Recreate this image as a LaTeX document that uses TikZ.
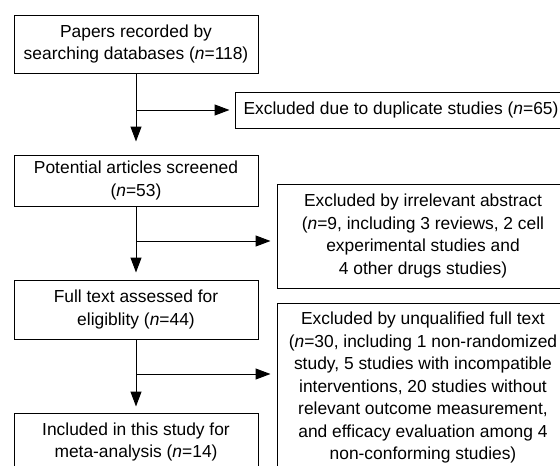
\documentclass[tikz,border=0pt]{standalone}
\usepackage{fontspec}
\setmainfont{Liberation Sans}
\usetikzlibrary{arrows.meta}
\newcommand{\nn}{\textit{n}}

\begin{document}
\begin{tikzpicture}[x=1pt, y=-1pt, line width=1pt,
		box/.style={draw, align=center, inner sep=0pt, font=\fontsize{17.4}{22.5}\selectfont},
		arr/.style={-{Triangle[length=15pt, width=11pt]}}]
		\path[use as bounding box, clip] (0,0) rectangle (560,466);
		
		%main column
		\node[box, minimum width=244pt, minimum height=58pt] (papers) at (136,44){Papers recorded by\\searching databases (\nn=118)};
		\node[box, minimum width=244pt, minimum height=51pt] (screened) at (136,180.5){Potential articles screened\\(\nn=53)};
		\node[box, minimum width=244pt, minimum height=59pt] (fulltext) at (136,309.5){Full text assessed for\\eligiblity (\nn=44)};
		\node[box, minimum width=244pt, minimum height=58pt] (included) at (136,442){Included in this study for\\meta-analysis (\nn=14)};
		
		%excluded
		\node[box, minimum width=332pt, minimum height=36pt] (dup) at (401,110){Excluded due to duplicate studies (\nn=65)};
		\node[box, minimum width=292pt, minimum height=104pt] (irr) at (423,236){Excluded by irrelevant abstract\\(\nn=9, including 3 reviews, 2 cell\\experimental studies and\\4 other drugs studies)};
		\node[box, minimum width=292pt, minimum height=169pt] (unq) at (423,387.5){Excluded by unqualified full text\\(\nn=30, including 1 non-randomized\\study, 5 studies with incompatible\\interventions, 20 studies without\\relevant outcome measurement,\\and efficacy evaluation among 4\\non-conforming studies)};
		
		%arrows
		\draw[arr, shorten >=13pt] (papers) -- (screened);
		\draw[arr, shorten >=7pt] (screened) -- (fulltext);
		\draw[arr, shorten >=6pt] (fulltext) -- (included);
		
		\coordinate (j1) at (papers.south |- dup.west);
		\coordinate (j2) at (136,241);
		\coordinate (j3) at (136,374);
		\draw[arr, shorten >=5pt] (j1) -- (dup);
		\draw[arr, shorten >=6pt] (j2) -- (j2 -| irr.west);
		\draw[arr, shorten >=6pt] (j3) -- (j3 -| unq.west);
\end{tikzpicture}
\end{document}
